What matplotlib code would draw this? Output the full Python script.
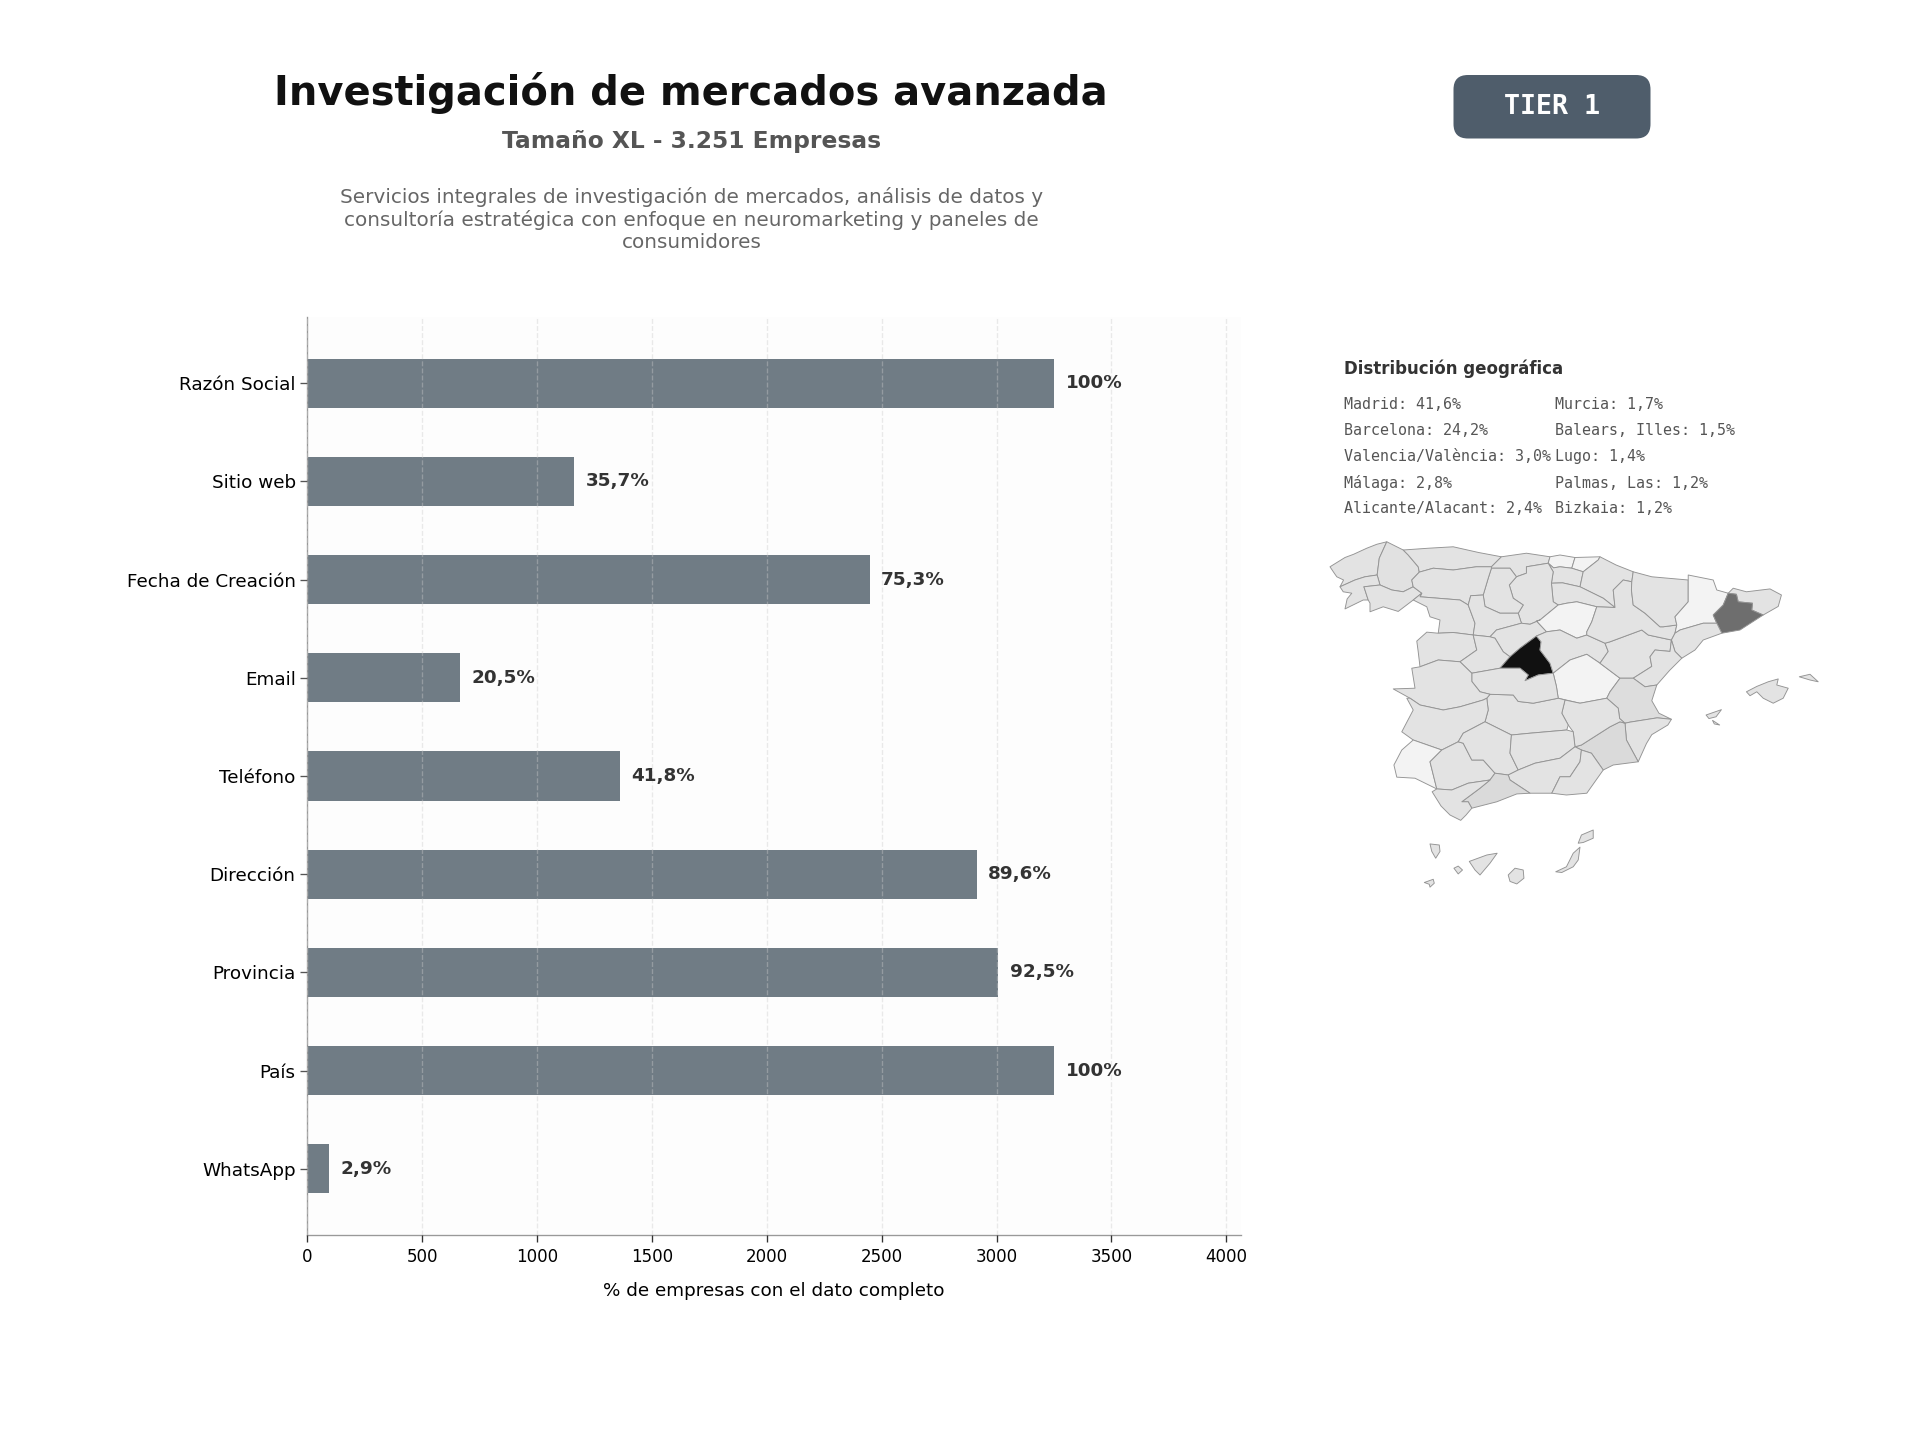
"""
Ficha de segmento: completitud de datos y mapa por provincias
"""

import matplotlib
matplotlib.use("Agg")
import matplotlib.pyplot as plt
from matplotlib.collections import PolyCollection
from matplotlib.colors import LinearSegmentedColormap
from matplotlib.patches import FancyBboxPatch

campos = ["Razón Social", "Sitio web", "Fecha de Creación", "Email", "Teléfono",
          "Dirección", "Provincia", "País", "WhatsApp"]
empresas = [3251, 1160, 2448, 666, 1359, 2913, 3007, 3251, 94]
porcentajes = ["100%", "35,7%", "75,3%", "20,5%", "41,8%", "89,6%", "92,5%", "100%", "2,9%"]

geo_col1 = ["Madrid: 41,6%", "Barcelona: 24,2%", "Valencia/València: 3,0%",
            "Málaga: 2,8%", "Alicante/Alacant: 2,4%"]
geo_col2 = ["Murcia: 1,7%", "Balears, Illes: 1,5%", "Lugo: 1,4%",
            "Palmas, Las: 1,2%", "Bizkaia: 1,2%"]

# tono de cada provincia, leido del mapa (las no listadas llevan el tono base)
cuotas = {
    "Madrid": 41.6, "Barcelona": 24.2, "Valencia": 2.2, "Malaga": 2.8, "Alicante": 0.9,
    "Murcia": 2.6, "Lugo": 1.4, "Huelva": 0.1, "Lleida": 0.1, "Cuenca": 0.1, "Soria": 0.1,
    "Bizkaia": 0.1, "Gipuzkoa": 0.1,
}

# contornos de provincias, en unidades del mapa
provincias = {
    "Coruna": [(84, 635), (105, 622), (126, 609), (150, 600), (187, 583), (215, 572), (243, 565), (222, 611), (216, 658), (182, 663), (154, 672), (112, 691), (122, 672), (103, 663), (94, 650)],
    "Lugo": [(243, 565), (289, 588), (303, 602), (331, 635), (334, 650), (313, 672), (317, 691), (289, 705), (257, 700), (224, 686), (216, 658), (222, 611)],
    "Pontevedra": [(112, 691), (154, 672), (182, 663), (216, 658), (224, 686), (179, 691), (191, 728), (177, 728), (126, 753), (132, 725), (145, 709), (121, 705)],
    "Ourense": [(179, 691), (224, 686), (257, 700), (289, 705), (317, 691), (341, 709), (317, 728), (275, 760), (233, 747), (196, 761), (196, 737), (191, 728)],
    "Asturias": [(289, 588), (360, 583), (429, 579), (500, 595), (564, 607), (536, 635), (494, 635), (429, 644), (373, 639), (334, 650), (331, 635), (303, 602)],
    "Cantabria": [(564, 607), (634, 597), (700, 607), (695, 625), (634, 635), (634, 653), (606, 663), (588, 639), (536, 639), (536, 635)],
    "Bizkaia": [(700, 607), (728, 602), (770, 609), (761, 639), (728, 635), (710, 638), (695, 625)],
    "Gipuzkoa": [(770, 609), (840, 607), (835, 616), (793, 649), (761, 639)],
    "Araba": [(695, 625), (710, 638), (728, 635), (761, 639), (793, 649), (784, 691), (735, 680), (704, 681), (709, 649)],
    "Navarra": [(840, 607), (885, 630), (933, 649), (929, 677), (905, 672), (877, 700), (882, 749), (849, 723), (784, 691), (793, 649), (835, 616)],
    "Rioja": [(704, 681), (735, 680), (784, 691), (849, 723), (882, 749), (831, 747), (775, 733), (747, 737), (723, 742), (709, 733)],
    "Burgos": [(606, 663), (634, 653), (634, 635), (695, 625), (709, 649), (704, 681), (709, 733), (723, 742), (672, 784), (644, 796), (620, 793), (611, 765), (625, 742), (597, 723), (586, 686)],
    "Palencia": [(536, 639), (588, 639), (606, 663), (586, 686), (597, 723), (625, 742), (611, 765), (560, 765), (518, 746), (513, 714), (527, 667)],
    "Leon": [(334, 650), (373, 639), (429, 644), (494, 635), (536, 635), (536, 639), (527, 667), (513, 714), (478, 716), (471, 742), (448, 728), (336, 719), (341, 709), (317, 691), (313, 672)],
    "Zamora": [(317, 728), (341, 709), (336, 719), (448, 728), (471, 742), (490, 793), (485, 826), (429, 819), (387, 821), (392, 784), (364, 775), (355, 747)],
    "Valladolid": [(471, 742), (478, 716), (513, 714), (518, 746), (560, 765), (611, 765), (620, 793), (550, 812), (532, 831), (485, 826), (490, 793)],
    "Soria": [(723, 742), (747, 737), (775, 733), (831, 747), (817, 789), (803, 817), (803, 826), (775, 835), (728, 812), (690, 817), (662, 787), (672, 784)],
    "Segovia": [(532, 831), (550, 812), (620, 793), (644, 796), (672, 784), (662, 787), (690, 817), (662, 829), (616, 863), (588, 887), (569, 873), (546, 835)],
    "Salamanca": [(327, 843), (355, 818), (387, 821), (429, 819), (485, 826), (495, 868), (448, 901), (387, 896), (336, 915), (331, 873)],
    "Avila": [(485, 826), (532, 831), (546, 835), (569, 873), (588, 887), (560, 919), (481, 933), (448, 901), (495, 868)],
    "Madrid": [(662, 829), (675, 845), (672, 868), (700, 905), (709, 933), (667, 938), (630, 954), (639, 938), (616, 919), (560, 919), (588, 887), (616, 863)],
    "Guadalajara": [(690, 817), (728, 812), (775, 835), (803, 826), (854, 849), (863, 872), (840, 905), (803, 880), (756, 896), (709, 933), (700, 905), (672, 868), (675, 845), (662, 829)],
    "Cuenca": [(709, 933), (756, 896), (803, 880), (840, 905), (896, 947), (868, 985), (859, 1003), (784, 1017), (723, 1003), (718, 970)],
    "Teruel": [(854, 849), (868, 845), (957, 812), (975, 826), (1040, 840), (1036, 872), (994, 868), (980, 887), (985, 914), (933, 947), (896, 947), (840, 905), (863, 872)],
    "Zaragoza": [(831, 747), (882, 749), (877, 700), (905, 672), (929, 677), (928, 700), (933, 742), (966, 765), (1008, 803), (1017, 803), (1055, 798), (1050, 821), (1040, 840), (975, 826), (957, 812), (868, 845), (854, 849), (803, 826), (803, 817), (817, 789)],
    "Huesca": [(933, 649), (985, 663), (1087, 672), (1087, 733), (1050, 775), (1055, 798), (1017, 803), (1008, 803), (966, 765), (933, 742), (928, 700), (929, 677)],
    "Lleida": [(1087, 658), (1157, 672), (1167, 700), (1199, 709), (1185, 742), (1157, 770), (1167, 793), (1129, 793), (1064, 812), (1050, 821), (1055, 798), (1050, 775), (1087, 733), (1087, 672)],
    "Girona": [(1199, 709), (1213, 695), (1250, 705), (1316, 697), (1348, 714), (1339, 746), (1297, 770), (1265, 756), (1267, 737), (1227, 733), (1222, 712)],
    "Barcelona": [(1199, 709), (1222, 712), (1227, 733), (1267, 737), (1265, 756), (1297, 770), (1232, 812), (1181, 821), (1167, 793), (1157, 770), (1185, 742)],
    "Tarragona": [(1050, 821), (1064, 812), (1129, 793), (1167, 793), (1181, 821), (1129, 840), (1106, 868), (1069, 891), (1050, 872), (1040, 840)],
    "Castellon": [(1040, 840), (1050, 872), (1069, 891), (1035, 925), (999, 966), (966, 971), (933, 947), (985, 914), (980, 887), (994, 868), (1036, 872)],
    "Valencia": [(896, 947), (933, 947), (966, 971), (999, 966), (985, 1010), (1005, 1045), (1040, 1062), (1000, 1058), (924, 1070), (910, 1073), (895, 1060), (891, 1031), (859, 1003), (868, 985)],
    "Alicante": [(910, 1073), (924, 1070), (1000, 1058), (1040, 1062), (1030, 1078), (985, 1105), (970, 1130), (947, 1181), (914, 1120)],
    "Murcia": [(788, 1134), (868, 1083), (896, 1069), (910, 1073), (914, 1120), (947, 1181), (877, 1190), (849, 1204), (816, 1157), (788, 1148), (770, 1139)],
    "Albacete": [(742, 1008), (784, 1017), (859, 1003), (891, 1031), (895, 1060), (910, 1073), (896, 1069), (868, 1083), (788, 1134), (770, 1139), (765, 1097), (751, 1078), (733, 1045)],
    "CiudadReal": [(532, 992), (597, 994), (611, 1012), (653, 1017), (723, 1003), (742, 1008), (733, 1045), (751, 1078), (747, 1092), (644, 1101), (592, 1106), (518, 1069), (527, 1036), (523, 1003)],
    "Toledo": [(481, 933), (560, 919), (616, 919), (639, 938), (630, 954), (667, 938), (709, 933), (718, 970), (723, 1003), (653, 1017), (611, 1012), (597, 994), (532, 992), (504, 985), (481, 956)],
    "Caceres": [(313, 919), (336, 915), (387, 896), (448, 901), (481, 933), (481, 956), (504, 985), (532, 992), (523, 1003), (513, 1008), (448, 1027), (401, 1036), (336, 1022), (308, 1003), (261, 977), (322, 975)],
    "Badajoz": [(308, 1003), (336, 1022), (401, 1036), (448, 1027), (513, 1008), (523, 1003), (527, 1036), (518, 1069), (457, 1101), (443, 1125), (397, 1148), (317, 1120), (285, 1097), (317, 1036), (299, 1003)],
    "Huelva": [(317, 1120), (397, 1148), (364, 1181), (383, 1257), (322, 1227), (271, 1224), (263, 1190), (285, 1148)],
    "Sevilla": [(397, 1148), (443, 1125), (457, 1129), (481, 1176), (513, 1176), (546, 1213), (532, 1232), (471, 1241), (425, 1260), (383, 1257), (364, 1181)],
    "Cordoba": [(443, 1125), (457, 1101), (518, 1069), (592, 1106), (588, 1157), (611, 1204), (583, 1218), (546, 1213), (513, 1176), (481, 1176), (457, 1129)],
    "Jaen": [(592, 1106), (644, 1101), (747, 1092), (765, 1097), (770, 1139), (728, 1171), (658, 1185), (611, 1204), (588, 1157)],
    "Granada": [(770, 1139), (788, 1148), (784, 1181), (756, 1223), (728, 1223), (705, 1269), (644, 1269), (588, 1232), (583, 1218), (611, 1204), (658, 1185), (728, 1171)],
    "Almeria": [(788, 1148), (816, 1157), (849, 1204), (803, 1269), (746, 1274), (705, 1269), (728, 1223), (756, 1223), (784, 1181)],
    "Malaga": [(504, 1255), (532, 1232), (546, 1213), (583, 1218), (588, 1232), (644, 1269), (607, 1271), (551, 1293), (481, 1311), (471, 1293), (453, 1293)],
    "Cadiz": [(383, 1257), (425, 1260), (471, 1241), (532, 1232), (504, 1255), (453, 1293), (471, 1293), (481, 1311), (465, 1330), (450, 1345), (420, 1330), (395, 1305), (370, 1265)],
    "Mallorca": [(1250, 985), (1279, 970), (1311, 957), (1339, 949), (1335, 966), (1367, 975), (1353, 1003), (1325, 1017), (1297, 1003), (1279, 985), (1260, 996)],
    "Menorca": [(1398, 943), (1428, 936), (1451, 957), (1428, 952)],
    "Ibiza": [(1137, 1050), (1180, 1035), (1165, 1055), (1145, 1060)],
    "Formentera": [(1155, 1065), (1175, 1078), (1160, 1075)],
    "LaPalma": [(364, 1411), (390, 1414), (392, 1432), (380, 1451), (369, 1432)],
    "Tenerife": [(474, 1460), (523, 1442), (552, 1437), (532, 1465), (504, 1498), (490, 1484)],
    "Gomera": [(431, 1479), (443, 1473), (455, 1484), (443, 1495)],
    "Hierro": [(348, 1519), (373, 1510), (376, 1521), (364, 1532), (362, 1524)],
    "GranCanaria": [(583, 1498), (602, 1479), (625, 1484), (627, 1507), (607, 1523), (588, 1516)],
    "Fuerteventura": [(716, 1489), (746, 1475), (765, 1437), (784, 1420), (779, 1456), (765, 1475), (733, 1491)],
    "Lanzarote": [(779, 1409), (788, 1386), (821, 1372), (821, 1395), (793, 1407)],
}

W, H = 1920, 1440


def fig_text(fig, x, y, s, **kw):
    # x, y en pixeles desde arriba a la izquierda
    kw.setdefault("ha", "center")
    kw.setdefault("va", "center")
    fig.text(x / W, 1 - y / H, s, **kw)


def plot_bars(fig):
    ax = fig.add_axes([307.3 / W, 1 - 1235 / H, 933.7 / W, 918 / H])
    ax.set_facecolor("#fdfdfd")
    ax.barh(campos, empresas, height=0.5, color="#707c85", zorder=2)
    ax.invert_yaxis()
    ax.set_xlim(0, 4063.75)
    ax.set_xticks(range(0, 4001, 500))
    ax.grid(axis="x", linestyle="--", color="#cccccc", alpha=0.4, zorder=3)
    ax.set_axisbelow(False)
    for spine in ("top", "right"):
        ax.spines[spine].set_visible(False)
    for spine in ("left", "bottom"):
        ax.spines[spine].set_color("#999999")
    ax.tick_params(axis="y", labelsize=11, color="#555555", length=4, pad=3)
    ax.tick_params(axis="x", labelsize=10, color="#333333", length=4)
    ax.set_xlabel("% de empresas con el dato completo", fontsize=11, labelpad=10)
    for i, (valor, etiqueta) in enumerate(zip(empresas, porcentajes)):
        ax.text(valor + 50, i, etiqueta, va="center", ha="left",
                fontsize=11, fontweight="bold", color="#333333")


def plot_map(fig):
    ax = fig.add_axes([1300 / W, 1 - 900 / H, 560 / W, 560 / H])
    ax.set_xlim(0, 1568)
    ax.set_ylim(1568, 0)
    ax.axis("off")
    cmap = LinearSegmentedColormap.from_list(
        "grises", [(0, "#f3f3f3"), (0.02, "#e3e3e3"), (0.07, "#d9d9d9"), (0.58, "#6e6e6e"), (1, "#111111")])
    nombres = list(provincias)
    valores = [cuotas.get(n, 0.85) for n in nombres]
    coleccion = PolyCollection([provincias[n] for n in nombres], array=valores, cmap=cmap,
                               edgecolors="#949494", linewidths=0.55)
    coleccion.set_clim(0, 41.6)
    ax.add_collection(coleccion)


def plot_header(fig):
    fig_text(fig, 691, 93, "Investigación de mercados avanzada", fontsize=24,
             fontweight="bold", color="#111111")
    fig_text(fig, 691.5, 141.5, "Tamaño XL - 3.251 Empresas", fontsize=14,
             fontweight="bold", color="#555555")
    descripcion = ["Servicios integrales de investigación de mercados, análisis de datos y",
                   "consultoría estratégica con enfoque en neuromarketing y paneles de",
                   "consumidores"]
    for y, linea in zip([197, 220, 242], descripcion):
        fig_text(fig, 691.5, y, linea, fontsize=12, color="#666666")
    badge = FancyBboxPatch((1453.5 / W, 1 - 138.5 / H), 197 / W, 63.5 / H,
                           boxstyle="round,pad=0,rounding_size=0.0075", mutation_aspect=W / H,
                           transform=fig.transFigure, facecolor="#4f5d6b", edgecolor="none")
    fig.add_artist(badge)
    fig_text(fig, 1552, 107, "TIER 1", fontsize=16, fontweight="bold",
             family="DejaVu Sans Mono", color="white")
    fig_text(fig, 1344, 369, "Distribución geográfica", fontsize=10, fontweight="bold",
             color="#333333", ha="left")
    for y, a, b in zip([404.5, 430.5, 456.5, 483, 508], geo_col1, geo_col2):
        fig_text(fig, 1344, y, a, fontsize=9, family="DejaVu Sans Mono", color="#555555", ha="left")
        fig_text(fig, 1555, y, b, fontsize=9, family="DejaVu Sans Mono", color="#555555", ha="left")


if __name__ == "__main__":
    fig = plt.figure(figsize=(16, 12), dpi=120)
    plot_bars(fig)
    plot_map(fig)
    plot_header(fig)
    fig.savefig("out.png", dpi=120)
